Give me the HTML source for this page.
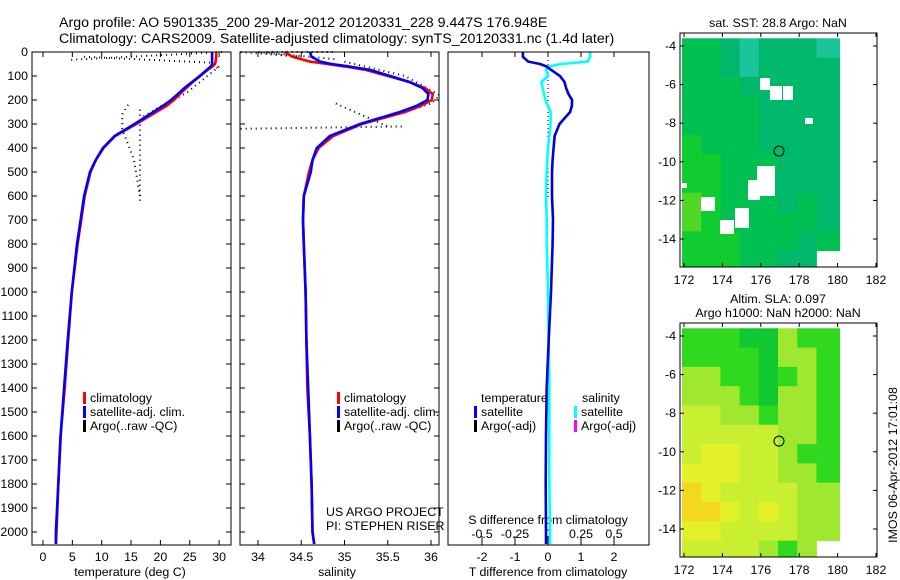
<!DOCTYPE html>
<html><head><meta charset="utf-8">
<style>
html,body{margin:0;padding:0;background:#fff;}
svg{display:block;font-family:"Liberation Sans",sans-serif;}
text{font-size:12.4px;fill:#000;}
.ttl{font-size:14.2px;}
</style></head>
<body>
<svg id="fig" width="900" height="580" viewBox="0 0 900 580" xmlns="http://www.w3.org/2000/svg">
<text class="ttl" x="59" y="27">Argo profile: AO 5901335_200 29-Mar-2012 20120331_228 9.447S 176.948E</text>
<text class="ttl" x="59" y="43">Climatology: CARS2009. Satellite-adjusted climatology: synTS_20120331.nc (1.4d later)</text>
<g id="g"></g>
</svg>
<script>
// ---------- data ----------
const depths = [0,20,40,50,60,75,100,125,150,175,200,225,250,300,350,400,450,500,600,700,800,1000,1200,1400,1600,1800,2000,2050];
const tempClim = [29.5,29.5,29.4,29.3,28.9,28.0,26.8,25.5,24.4,23.3,22.3,21.0,19.3,15.9,12.3,10.3,9.0,8.1,7.1,6.5,5.9,4.9,4.3,3.7,3.0,2.6,2.3,2.2];
const tempSat  = [28.8,28.8,28.8,28.8,28.6,27.9,26.7,25.4,24.1,23.0,21.8,20.4,18.8,15.6,12.2,10.2,9.0,8.0,7.0,6.4,5.8,4.9,4.2,3.6,3.0,2.6,2.2,2.2];
const tempArgoD = [0,33,null,20,45,70,null,60,120,170,220,270,null,220,260,320,450,600,null,240,320,620];
const tempArgoV = [30.5,4.5,null,7,29,29.8,null,30,27,24.5,20.5,17,null,14.5,13.5,13.5,15.5,16.5,null,16.5,16.5,16.5];
const salClim = [34.31,34.4,34.6,34.8,35.0,35.25,35.5,35.75,35.93,36.02,36.01,35.88,35.7,35.2,34.87,34.7,34.63,34.59,34.53,34.52,34.53,34.55,34.56,34.57,34.6,34.62,34.63,34.65];
const salSat  = [34.6,34.62,34.72,34.85,35.05,35.3,35.53,35.75,35.9,35.97,35.96,35.83,35.64,35.18,34.83,34.68,34.63,34.61,34.53,34.52,34.53,34.55,34.56,34.58,34.6,34.62,34.63,34.65];
const salArgoD = [0,20,0,30,null,215,310,null,320,310,null,40,100,180,215,260,null,0,0];
const salArgoV = [33.8,34.5,34.0,34.9,null,34.9,35.5,null,33.8,35.7,null,35.0,35.7,36.1,36.0,35.6,null,34.1,34.9];
const tDiff = [-0.76,-0.76,-0.6,-0.24,-0.05,0.1,0.36,0.5,0.55,0.62,0.73,0.72,0.67,0.35,0.2,0.17,0.14,0.12,0.12,0.15,0.14,0.09,0.02,-0.04,-0.06,-0.07,-0.06,-0.06];
const sDiff = [0.32,0.32,0.3,0.1,0.01,-0.015,0.0,-0.05,-0.04,-0.03,-0.02,0.0,0.02,0.02,0.01,0.0,-0.005,-0.01,-0.015,-0.01,-0.01,0.0,0.005,0.01,0.01,0.01,0.015,0.015];
const depthTicks = [0,100,200,300,400,500,600,700,800,900,1000,1100,1200,1300,1400,1500,1600,1700,1800,1900,2000];
const tempTicks = [0,5,10,15,20,25,30];
const salTicks = [34,34.5,35,35.5,36];
const tdTicks = [-2,-1,0,1,2];
const sdTicks = [-0.5,-0.25,0,0.25,0.5];
const lonTicks = [172,174,176,178,180,182];
const latTicks = [-4,-6,-8,-10,-12,-14];
const sstGrid = [
[2,2,1,0,1,1,1,0],[2,2,1,0,1,1,1,1],[2,2,2,1,1,1,1,1],[2,2,2,2,1,1,1,1],
[2,2,2,2,1,1,1,1],[3,2,2,2,1,1,1,1],[3,3,2,2,2,1,1,1],[3,3,2,2,1,1,1,1],
[4,3,2,2,2,1,2,1],[4,3,2,2,2,2,2,1],[3,3,3,2,2,2,1,2],[3,3,3,2,2,1,1,-1]];
const slaGrid = [
[1,1,1,0,0,2,1,1],[1,1,1,1,0,2,2,1],[2,2,1,1,0,1,2,1],[2,2,2,1,0,2,2,1],
[3,3,2,2,1,2,2,1],[3,3,3,3,3,2,2,1],[3,4,4,3,3,2,1,1],[4,4,4,3,3,2,2,1],
[5,4,3,3,3,3,2,2],[5,5,4,3,4,3,2,2],[4,4,3,3,3,3,2,2],[3,3,3,3,2,1,2,-1]];
const sstPalette = ['#1cc49a','#00b86c','#00c052','#10cc30','#50d828'];
const slaPalette = ['#10c830','#30d820','#a0e830','#c8f030','#e4f028','#f4d820'];
const argoLon = 176.948, argoLat = -9.447;

// ---------- helpers ----------
const NS='http://www.w3.org/2000/svg';
const G=document.getElementById('g');
function el(tag,attrs,parent){const e=document.createElementNS(NS,tag);for(const k in attrs)e.setAttribute(k,attrs[k]);(parent||G).appendChild(e);return e;}
function txt(x,y,s,anchor,parent){const t=el('text',{x:x,y:y,'text-anchor':anchor||'start'},parent);t.textContent=s;return t;}
const yD = d => 52 + d*0.24;
const xT = v => 43 + v*5.87;
const xS = v => 258 + (v-34)*86.5;
const xTD = v => 548 + v*33;
const xSD = v => 548 + v*132;
function pathFrom(vals,ds,fx){let s='',pen=false;for(let i=0;i<vals.length;i++){if(vals[i]==null||ds[i]==null){pen=false;continue;}s+=(pen?'L':'M')+fx(vals[i]).toFixed(1)+','+yD(ds[i]).toFixed(1);pen=true;}return s;}
function panel(name){
  const g=el('g',{});
  
  
  return g;
}
function legend(px,py,items,parent,name){const g=el('g',{},parent);
  items.forEach((it,i)=>{el('rect',{x:px,y:py+i*14-10,width:3,height:12,fill:it[0]},g);txt(px+7,py+i*14,it[1],'start',g);});}

// ---------- panel 1 ----------
let p1=panel('temperature-panel');
for(const d of depthTicks){
  const y=yD(d);
  el('line',{x1:32,y1:y,x2:37,y2:y,stroke:'#000'},p1);
  el('line',{x1:226,y1:y,x2:231,y2:y,stroke:'#000'},p1);
  const t=txt(28,y+4,String(d),'end',p1);
  
  
}
for(const v of tempTicks){const x=xT(v);el('line',{x1:x,y1:545,x2:x,y2:540,stroke:'#000'},p1);el('line',{x1:x,y1:52,x2:x,y2:57,stroke:'#000'},p1);
  const t=txt(x,561,String(v),'middle',p1);}
let a=el('path',{d:pathFrom(tempArgoV,tempArgoD,xT),fill:'none',stroke:'#000','stroke-width':2,'stroke-dasharray':'1 4'},p1);

let rc=el('path',{d:pathFrom(tempClim,depths,xT),fill:'none',stroke:'#f00','stroke-width':2.6},p1);

let bc=el('path',{d:pathFrom(tempSat,depths,xT),fill:'none',stroke:'#0000ff','stroke-width':2.6},p1);

el('rect',{x:32,y:52,width:199,height:493,fill:'none',stroke:'#000'},p1);
txt(130,576,'temperature (deg C)','middle',p1);
legend(83,402,[['#f00','climatology'],['#00f','satellite-adj. clim.'],['#000','Argo(..raw -QC)']],p1,'temperature-legend');

// ---------- panel 2 ----------
let p2=panel('salinity-panel');
for(const d of depthTicks){const y=yD(d);el('line',{x1:240,y1:y,x2:245,y2:y,stroke:'#000'},p2);el('line',{x1:434,y1:y,x2:439,y2:y,stroke:'#000'},p2);}
for(const v of salTicks){const x=xS(v);el('line',{x1:x,y1:545,x2:x,y2:540,stroke:'#000'},p2);el('line',{x1:x,y1:52,x2:x,y2:57,stroke:'#000'},p2);
  const t=txt(x,561,String(v),'middle',p2);}
a=el('path',{d:pathFrom(salArgoV,salArgoD,xS),fill:'none',stroke:'#000','stroke-width':2,'stroke-dasharray':'1 4'},p2);

rc=el('path',{d:pathFrom(salClim,depths,xS),fill:'none',stroke:'#f00','stroke-width':2.6},p2);

bc=el('path',{d:pathFrom(salSat,depths,xS),fill:'none',stroke:'#0000ff','stroke-width':2.6},p2);

el('rect',{x:240,y:52,width:199,height:493,fill:'none',stroke:'#000'},p2);
txt(337,576,'salinity','middle',p2);
legend(337,402,[['#f00','climatology'],['#00f','satellite-adj. clim.'],['#000','Argo(..raw -QC)']],p2,'salinity-legend');
txt(326,516,'US ARGO PROJECT','start',p2);
txt(326,530,'PI: STEPHEN RISER','start',p2);

// ---------- panel 3 ----------
let p3=panel('difference-panel');
el('line',{x1:548,y1:52,x2:548,y2:200,stroke:'#000','stroke-dasharray':'1 3'},p3);
for(const v of tdTicks){const x=xTD(v);el('line',{x1:x,y1:545,x2:x,y2:540,stroke:'#000'},p3);el('line',{x1:x,y1:52,x2:x,y2:57,stroke:'#000'},p3);
  const t=txt(x,561,String(v),'middle',p3);}
for(const v of sdTicks){const x=xSD(v);el('line',{x1:x,y1:536,x2:x,y2:540,stroke:'#000'},p3);
  const t=txt(x,538,String(v),'middle',p3);}
txt(548,524,'S difference from climatology','middle',p3);
let sd=el('path',{d:pathFrom(sDiff,depths,xSD),fill:'none',stroke:'#00ffff','stroke-width':2.6},p3);

let td=el('path',{d:pathFrom(tDiff,depths,xTD),fill:'none',stroke:'#0000dd','stroke-width':2.6},p3);

el('rect',{x:448,y:52,width:201,height:493,fill:'none',stroke:'#000'},p3);
txt(548,576,'T difference from climatology','middle',p3);
txt(481,402,'temperature','start',p3);
legend(474,416,[['#00f','satellite'],['#000','Argo(-adj)']],p3,'t-diff-legend');
txt(582,402,'salinity','start',p3);
legend(574,416,[['#00ffff','satellite'],['#ff00ff','Argo(-adj)']],p3,'s-diff-legend');

// ---------- maps ----------
function map(top,grid,pal,name,titles){
  const g=el('g',{});
  const xL=v=>684+(v-172)*19.2;
  const yL=v=>top+13+(-4-v)*19.3;
  for(let r=0;r<grid.length;r++)for(let c=0;c<grid[r].length;c++){
    const v=grid[r][c];if(v<0)continue;
    const x=xL(172+c)-2, y=yL(-3.6-r);
    const w=(c==grid[r].length-1)?(xL(180.1)-x):19.2, h=(r==grid.length-1)?(yL(-15.4)-y):19.3;
    const cell=el('rect',{x:x,y:y,width:w+0.5,height:h+0.5,fill:pal[v]},g);
    
    
  }
  el('rect',{x:680,y:top,width:197,height:234,fill:'none',stroke:'#000'},g);
  for(const v of lonTicks){const x=xL(v);el('line',{x1:x,y1:top,x2:x,y2:top+4,stroke:'#000'},g);el('line',{x1:x,y1:top+234,x2:x,y2:top+230,stroke:'#000'},g);txt(x,top+251,String(v),'middle',g);}
  for(const v of latTicks){const y=yL(v);el('line',{x1:680,y1:y,x2:684,y2:y,stroke:'#000'},g);el('line',{x1:877,y1:y,x2:873,y2:y,stroke:'#000'},g);txt(676,y+4,String(v),'end',g);}
  const m=el('circle',{cx:xL(argoLon),cy:yL(argoLat),r:5,fill:'none',stroke:'#000'},g);
  
  titles.forEach((t,i)=>txt(778,top-(titles.length-1-i)*14-6,t,'middle',g));
  return g;
}
const m1=map(33,sstGrid,sstPalette,'sst-map',['sat. SST: 28.8 Argo: NaN']);
[[760,78,10,12],[770,86,12,14],[783,86,10,14],[805,118,8,6],[757,166,18,30],[748,180,12,20],[735,208,14,20],[720,220,14,14],[701,197,14,14],[682,183,5,5]].forEach(r=>{el('rect',{x:r[0],y:r[1],width:r[2],height:r[3],fill:'#fff'},m1);});
map(323,slaGrid,slaPalette,'sla-map',['Altim. SLA: 0.097','Argo h1000: NaN h2000: NaN']);
const ts=txt(0,0,'IMOS 06-Apr-2012 17:01:08','middle');
ts.setAttribute('transform','translate(897,465) rotate(-90)');


</script>
</body></html>
